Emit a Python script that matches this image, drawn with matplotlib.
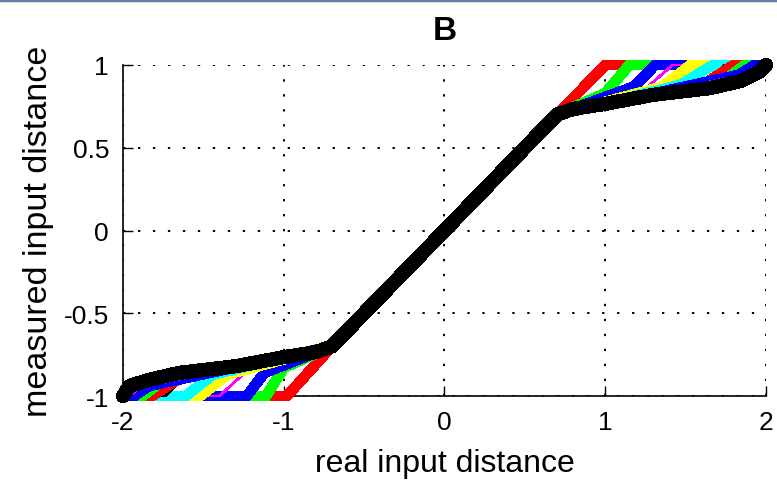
import matplotlib
matplotlib.use("Agg")
import matplotlib.pyplot as plt
from matplotlib.lines import Line2D

plt.rcParams['font.family'] = ['Liberation Sans', 'DejaVu Sans']

# curves in drawing order, colours cycle r g b m y c k
line_colors = ['#ff0000', '#00ff00', '#0000ff', '#ff00ff', '#ffff00', '#00ffff',
               '#000000', '#ff0000', '#00ff00', '#0000ff', '#ff00ff']
thin = [False, False, False, True, False, False, True, False, False, False, True]

# upper half: where each curve bends upward and where it reaches 1
upper_bend_x = [0.70, 1.00, 1.18, 1.23, 1.36, 1.47, 1.63, 1.64, 1.76, 1.83, 1.90]
upper_bend_y = [0.70, 0.83, 0.87, 0.84, 0.87, 0.88, 0.89, 0.90, 0.92, 0.94, 0.95]
upper_corner = [1.00, 1.15, 1.31, 1.42, 1.53, 1.67, 1.74, 1.80, 1.87, 1.93, 1.96]

# lower half
lower_bend_x = [-0.70, -1.00, -1.12, -1.21, -1.35, -1.44, -1.63, -1.66, -1.77, -1.84, -1.90]
lower_bend_y = [-0.70, -0.83, -0.86, -0.83, -0.87, -0.87, -0.90, -0.90, -0.92, -0.94, -0.95]
lower_corner = [-0.98, -1.11, -1.23, -1.40, -1.52, -1.61, -1.74, -1.82, -1.88, -1.93, -1.96]

knee = 0.7

# final (black, thick) curve
x_black = [-2.0, -1.96, -1.85, -1.65, -1.3, -1.0, -0.8, -0.7, 0.7, 0.8, 1.0, 1.3, 1.65, 1.85, 1.96, 2.0]
y_black = [-1.0, -0.94, -0.905, -0.86, -0.82, -0.765, -0.735, -0.7, 0.7, 0.735, 0.765, 0.82, 0.86, 0.905, 0.96, 1.0]

xticks = [-2, -1, 0, 1, 2]
yticks = [-1, -0.5, 0, 0.5, 1]
ytick_labels = ['-1', '-0.5', '0', '0.5', '1']

fig = plt.figure(figsize=(7.77, 4.81), dpi=100)
ax = fig.add_axes([0.1583, 0.1746, 0.8275, 0.6882])

for i, c in enumerate(line_colors):
    xs = [-2, lower_corner[i], lower_bend_x[i], -knee, knee, upper_bend_x[i], upper_corner[i], 2]
    ys = [-1, -1, lower_bend_y[i], -knee, knee, upper_bend_y[i], 1, 1]
    lw = 1.2 if thin[i] else 7.0
    ax.plot(xs, ys, color=c, lw=lw, clip_on=False, solid_joinstyle='miter',
            solid_capstyle='butt', antialiased=False, zorder=3)

ax.plot(x_black, y_black, color='black', lw=9.5, clip_on=False, antialiased=False,
        solid_capstyle='round', solid_joinstyle='round', zorder=4)

ax.set_xlim(-2, 2)
ax.set_ylim(-1, 1)
ax.set_xticks(xticks)
ax.set_xticklabels([str(t) for t in xticks])
ax.set_yticks(yticks)
ax.set_yticklabels(ytick_labels)
ax.tick_params(direction='in', length=7, width=1, labelsize=19, pad=10)
ax.grid(True, color='black', linestyle=(0, (1.2, 6.5)), linewidth=1.4)
ax.set_axisbelow(True)
for s in ['top', 'right']:
    ax.spines[s].set_visible(False)
for s in ['left', 'bottom']:
    ax.spines[s].set_linewidth(1.2)

ax.set_xlabel('real input distance', fontsize=23, labelpad=10)
ax.set_ylabel('measured input distance', fontsize=24.5, labelpad=7)
ax.set_title('B', fontsize=24, fontweight='bold', pad=19)

# window border seen at the top of the screenshot
fig.add_artist(Line2D([0, 1], [0.997, 0.997], color='#6b7fa6', lw=2.5))

fig.savefig('out.png', dpi=100)
